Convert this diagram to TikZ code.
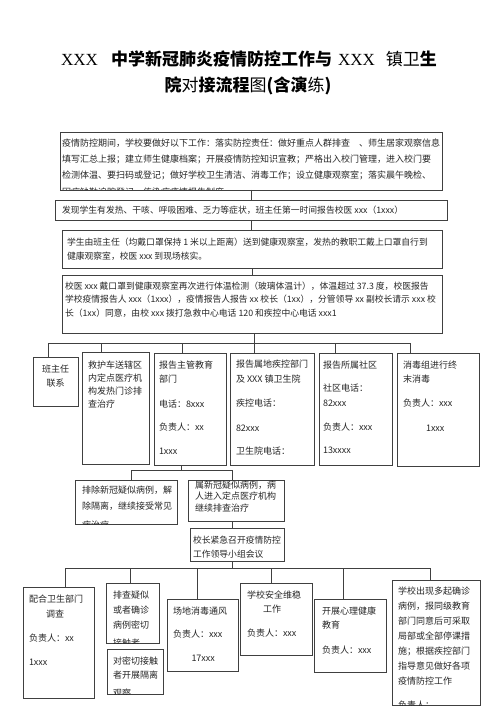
\documentclass[tikz,border=0pt]{standalone}
\usepackage{fontspec}
\newfontfamily\cjk{Noto Sans CJK SC}
\newfontfamily\tnr{Liberation Serif}
\tikzset{
  boxst/.style={draw=black!75, line width=0.9pt, inner sep=0pt, outer sep=0pt, rectangle},
  txt/.style={inner sep=0pt, outer sep=0pt, anchor=north west, align=left, text=black!85, font=\cjk\fontsize{9}{14}\selectfont},
  sk/.style={font=\cjk\fontsize{9}{#1}\selectfont},
  skb/.style={font=\cjk\fontsize{8.8}{#1}\selectfont},
  conn/.style={draw=black!75, line width=0.9pt},
  ttl/.style={inner sep=0pt, outer sep=0pt, text=black, font=\cjk\fontsize{17}{20}\selectfont\bfseries}
}
% box: [text opts]{name}{x1}{y1}{x2}{y2}{text x}{text top}{content}
\newcommand\bx[9][]{%
  \node[boxst, minimum width={(#5-#3)*1pt}, minimum height={(#6-#4)*1pt}, anchor=north west] (#2) at (#3,#4) {};
  \begin{scope}
    \clip (#2.north west) rectangle (#2.south east);
    \node[txt, #1] (#2t) at (#7,#8) {\rule{0pt}{8pt}#9};
  \end{scope}}
\begin{document}
\begin{tikzpicture}[x=1pt, y=-1pt]
\useasboundingbox (0,0) rectangle (500,708);
\fill[white] (0,0) rectangle (500,708);

% title
\node[ttl] (t1) at (249,59) {{\tnr\mdseries XXX}\hspace{13pt}中学新冠肺炎疫情防控工作与\hspace{6pt}{\tnr\mdseries XXX}\hspace{11pt}{\mdseries 镇卫}生};
\node[ttl] (t2) at (248,86) {院{\mdseries 对}接流程{\mdseries 图}(含演{\mdseries 练})};

% main column
\bx[sk=16]{b1}{60}{132}{442}{190}{62}{138.3}{疫情防控期间，学校要做好以下工作：落实防控责任：做好重点人群排查　、师生居家观察信息\\填写汇总上报；建立师生健康档案；开展疫情防控知识宣教；严格出入校门管理，进入校门要\\检测体温、要扫码或登记；做好学校卫生清洁、消毒工作；设立健康观察室；落实晨午晚检、\\[1pt]因病缺勤追踪登记、传染病疫情报告制度}
\bx[skb=14]{b2}{55}{200}{447}{220}{62}{205.3}{发现学生有发热、干咳、呼吸困难、乏力等症状，班主任第一时间报告校医 xxx（1xxx）}
\bx[skb=14]{b3}{62}{230}{442}{268}{67}{237.3}{学生由班主任（均戴口罩保持 1 米以上距离）送到健康观察室，发热的教职工戴上口罩自行到\\健康观察室，校医 xxx 到现场核实。}
\bx[skb=13.5]{b4}{62}{275}{442}{333}{65}{281.3}{校医 xxx 戴口罩到健康观察室再次进行体温检测（玻璃体温计），体温超过 37.3 度，校医报告\\学校疫情报告人 xxx（1xxx），疫情报告人报告 xx 校长（1xx），分管领导 xx 副校长请示 xxx 校\\长（1xx）同意，由校 xxx 拨打急救中心电话 120 和疾控中心电话 xxx1}

% first row
\bx[anchor=north, align=center]{bA}{33}{357}{78}{406}{55.5}{364.3}{班主任\\联系}
\bx[sk=13]{bB}{82}{352}{149}{464}{88}{360.3}{救护车送辖区\\内定点医疗机\\构发热门诊排\\查治疗}
\bx{bC}{154}{353}{226}{465}{159}{360.3}{报告主管教育\\部门\\[11pt]电话：8xxx\\[9pt]负责人：xx\\[10pt]1xxx}
\bx{bD}{230}{353}{314}{465}{236}{359.3}{报告属地疾控部门\\[1pt]及 XXX 镇卫生院\\[10pt]疾控电话：\\[11pt]82xxx\\[9pt]卫生院电话：}
\bx{bE}{319}{353}{392}{465}{323}{360.3}{报告所属社区\\[9pt]社区电话：\\[1pt]82xxx\\[10pt]负责人：xxx\\[9pt]13xxxx}
\bx{bF}{397}{353}{479}{466}{403}{360.3}{消毒组进行终\\末消毒\\[10pt]负责人：xxx\\[11pt]\hspace*{23pt}1xxx}

% second level
\bx[sk=16]{bG}{75}{480}{177}{524}{82}{485.3}{排除新冠疑似病例，解\\除隔离，继续接受常见\\[3pt]病治疗}
\bx[sk=11.5]{bH}{188}{480}{284}{521}{195}{480.3}{属新冠疑似病例，病\\人进入定点医疗机构\\继续排查治疗}
\bx[skb=14]{bI}{190}{528}{284}{561}{193}{535.3}{校长紧急召开疫情防控\\工作领导小组会议}

% bottom row
\bx[sk=15]{bJ}{23}{587}{94}{698}{29}{594.3}{配合卫生部门\\\hspace*{17pt}调查\\[9pt]负责人：xx\\[9pt]1xxx}
\bx[sk=15]{bK}{106}{583}{159}{643}{113}{590.3}{排查疑似\\或者确诊\\病例密切\\[3pt]接触者}
\bx[sk=14.5]{bL}{107}{649}{163}{694}{113}{656.3}{对密切接触\\者开展隔离\\[3pt]观察}
\bx{bM}{167}{599}{238}{671}{173}{606.3}{场地消毒通风\\[9pt]负责人：xxx\\[10pt]\hspace*{18.5pt}17xxx}
\bx{bN}{240}{583}{312}{655}{247}{590.3}{学校安全维稳\\\hspace*{16pt}工作\\[10pt]负责人：xxx}
\bx{bO}{314}{599}{386}{672}{322}{606.3}{开展心理健康\\教育\\[11pt]负责人：xxx}
\bx[sk=15]{bP}{392}{580}{480}{705}{398}{586.3}{学校出现多起确诊\\病例，报同级教育\\部门同意后可采取\\局部或全部停课措\\施；根据疾控部门\\指导意见做好各项\\疫情防控工作\\[9pt]负责人：}

% connector junctions
\coordinate (j1) at (254,343);
\coordinate (tA) at (48,343);
\coordinate (tB) at (101,343);
\coordinate (tC) at (182,343);
\coordinate (tE) at (335,343);
\coordinate (tF) at (410,343);
\coordinate (j2) at (181,470);
\coordinate (tG) at (131,470);
\coordinate (tH) at (232,470);
\coordinate (j3) at (232,568);
\coordinate (tJ) at (65,568);
\coordinate (tK) at (130,568);
\coordinate (tM) at (197,568);
\coordinate (tN) at (271,568);
\coordinate (tO) at (343,568);
\coordinate (tP) at (430,568);

% connectors
\draw[conn] (b1.south) -- (b2.north);
\draw[conn] (b2.south) -- (b2.south |- b3.north);
\draw[conn] (b3.south) -- (b3.south |- b4.north);
\draw[conn] (j1 |- b4.south) -- (j1 |- bD.north);
\draw[conn] (tA) -- (tF);
\draw[conn] (tA) -- (tA |- bA.north);
\draw[conn] (tB) -- (tB |- bB.north);
\draw[conn] (tC) -- (tC |- bC.north);
\draw[conn] (tE) -- (tE |- bE.north);
\draw[conn] (tF) -- (tF |- bF.north);

\draw[conn] (j2 |- bC.south) -- (j2);
\draw[conn] (tG) -- (tH);
\draw[conn] (tG) -- (tG |- bG.north);
\draw[conn] (tH) -- (tH |- bH.north);
\draw[conn] (tH |- bH.south) -- (tH |- bI.north);

\draw[conn] (j3 |- bI.south) -- (j3);
\draw[conn] (tJ) -- (tP);
\draw[conn] (tJ) -- (tJ |- bJ.north);
\draw[conn] (tK) -- (tK |- bK.north);
\draw[conn] (tM) -- (tM |- bM.north);
\draw[conn] (tN) -- (tN |- bN.north);
\draw[conn] (tO) -- (tO |- bO.north);
\draw[conn] (tP) -- (tP |- bP.north);
\end{tikzpicture}
\end{document}
